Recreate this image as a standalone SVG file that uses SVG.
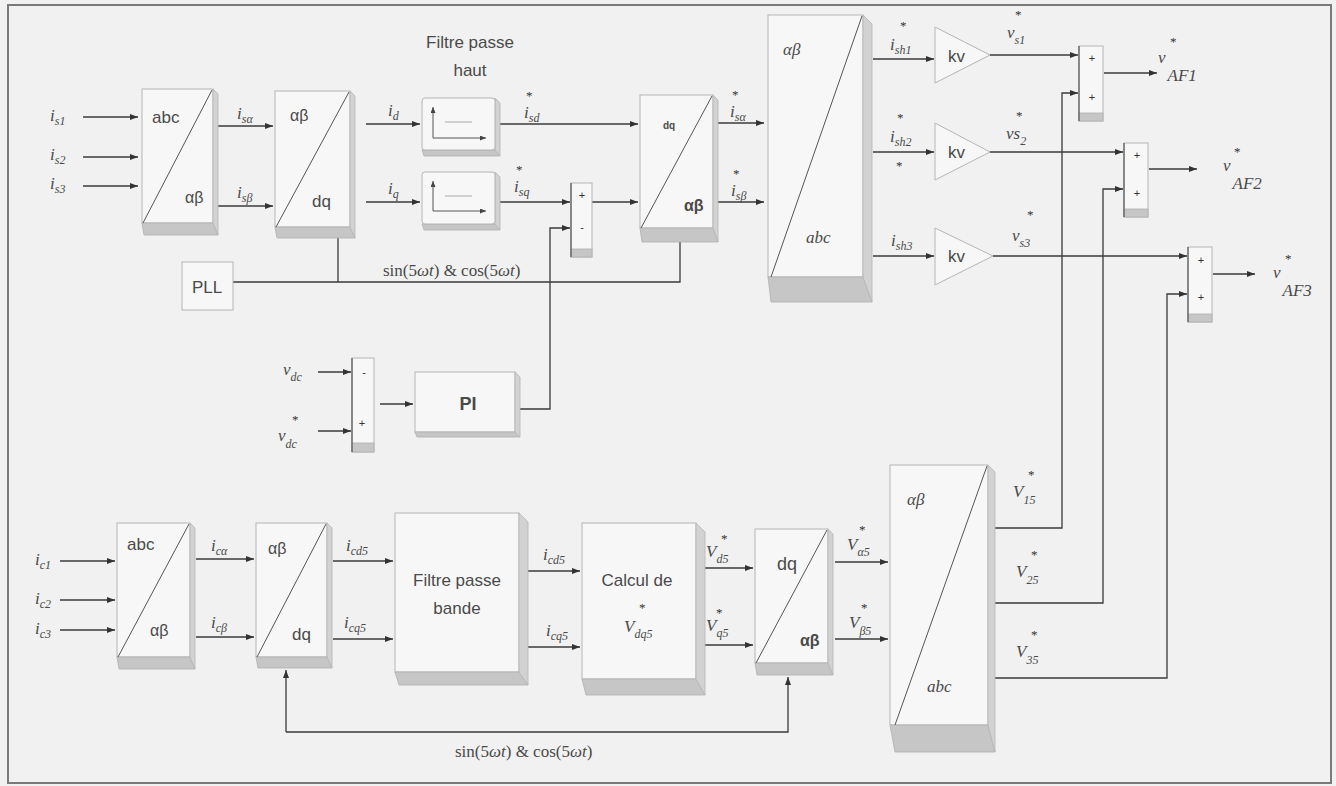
<svg xmlns="http://www.w3.org/2000/svg" width="1336" height="786" viewBox="0 0 1336 786">
<defs>
<style>
.bg{fill:#f1f1f1}
.frame{fill:none;stroke:#7a7a7a;stroke-width:2}
.bf{fill:#f7f7f7;stroke:#b5b5b5;stroke-width:1}
.sh{fill:#c6c6c6;stroke:#b0b0b0;stroke-width:0.8}
.sr{fill:#d2d2d2;stroke:#b5b5b5;stroke-width:0.8}
.dg{stroke:#555;stroke-width:1;fill:none}
.w{stroke:#3a3a3a;stroke-width:1.3;fill:none}
.wa{stroke:#3a3a3a;stroke-width:1.3;fill:none;marker-end:url(#a)}
.fi{stroke:#555;stroke-width:1;fill:none;marker-end:url(#s)}
.stp{stroke:#aaa;stroke-width:1;fill:none}
.sl{stroke:#555;stroke-width:1.2}
.s{font-family:"Liberation Sans",Arial,sans-serif;fill:#4a4a4a;font-size:17px}
.s16{font-size:16px}
.s18{font-size:18px}
.s10{font-size:10px}
.b{font-weight:bold}
.m{font-family:"Liberation Serif","Times New Roman",serif;font-style:italic;fill:#4a4a4a;font-size:17px}
.sin{font-family:"Liberation Serif","Times New Roman",serif;font-style:normal;fill:#4a4a4a;font-size:17px}
.it{font-style:italic}
.u{font-size:12px}
.st{font-family:"Liberation Serif",serif;font-style:normal;font-size:13px;fill:#333}
.sg{font-family:"Liberation Sans",Arial,sans-serif;font-size:11px;fill:#333;text-anchor:middle}
</style>
<marker id="a" markerWidth="8" markerHeight="6" refX="8" refY="3" orient="auto" markerUnits="userSpaceOnUse"><path d="M0,0 L8,3 L0,6 z" fill="#333"/></marker>
<marker id="s" markerWidth="6" markerHeight="5" refX="6" refY="2.5" orient="auto" markerUnits="userSpaceOnUse"><path d="M0,0 L6,2.5 L0,5 z" fill="#444"/></marker>
</defs>
<rect class="bg" x="0" y="0" width="1336" height="786"/>
<rect class="frame" x="8" y="5" width="1323" height="778"/>

<g id="connectors">
<path class="wa" d="M83,117 H138"/>
<path class="wa" d="M83,157 H138"/>
<path class="wa" d="M83,186 H138"/>
<path class="wa" d="M218,126 H273"/>
<path class="wa" d="M218,206 H273"/>
<path class="wa" d="M366,124 H420"/>
<path class="wa" d="M366,202 H420"/>
<path class="wa" d="M488,124 H638"/>
<path class="wa" d="M499,202 H570"/>
<path class="wa" d="M592,202 H638"/>
<path class="wa" d="M718,123 H764"/>
<path class="wa" d="M718,202 H764"/>
<path class="wa" d="M520,409 H550 V228 H570"/>
<path class="w" d="M233,282 H680 V242"/>
<path class="w" d="M338,238 V282"/>
<path class="wa" d="M318,372 H351"/>
<path class="wa" d="M318,431 H351"/>
<path class="wa" d="M380,404 H413"/>
<path class="wa" d="M873,59 H934"/>
<path class="wa" d="M873,152 H934"/>
<path class="wa" d="M873,256 H934"/>
<path class="wa" d="M990,55 H1078"/>
<path class="wa" d="M990,152 H1123"/>
<path class="wa" d="M993,256 H1187"/>
<path class="wa" d="M995,528 H1062 V93 H1078"/>
<path class="wa" d="M995,603 H1103 V189 H1123"/>
<path class="wa" d="M995,678 H1167 V294 H1187"/>
<path class="wa" d="M1104,73 H1157"/>
<path class="wa" d="M1149,169 H1197"/>
<path class="wa" d="M1213,274 H1255"/>
<path class="wa" d="M60,561 H115"/>
<path class="wa" d="M60,600 H115"/>
<path class="wa" d="M60,630 H115"/>
<path class="wa" d="M196,559 H254"/>
<path class="wa" d="M196,637 H254"/>
<path class="wa" d="M333,561 H393"/>
<path class="wa" d="M333,639 H393"/>
<path class="wa" d="M528,571 H580"/>
<path class="wa" d="M528,647 H580"/>
<path class="wa" d="M705,568 H753"/>
<path class="wa" d="M705,645 H753"/>
<path class="wa" d="M835,562 H888"/>
<path class="wa" d="M835,639 H888"/>
<path class="wa" d="M286,732 V670"/>
<path class="wa" d="M286,732 H788 V677"/>
</g>

<g id="b1">
<rect class="bf" x="142" y="89" width="71" height="134"/>
<polygon class="sh" points="142,223 213,223 218,235 144,235"/>
<polygon class="sr" points="213,89 218,94 218,235 213,223"/>
<line class="dg" x1="143" y1="223" x2="212" y2="90"/>
<text class="s" x="152" y="123">abc</text>
<text class="s s16" x="185" y="203">αβ</text>
</g>

<g id="b2">
<rect class="bf" x="275" y="91" width="75" height="136"/>
<polygon class="sh" points="275,227 350,227 355,238 277,238"/>
<polygon class="sr" points="350,91 355,96 355,238 350,227"/>
<line class="dg" x1="276" y1="227" x2="349" y2="92"/>
<text class="s s16" x="290" y="121">αβ</text>
<text class="s" x="312" y="207">dq</text>
</g>

<g id="title-hp">
<text class="s" x="470" y="48" text-anchor="middle">Filtre passe</text>
<text class="s" x="470" y="76" text-anchor="middle">haut</text>
</g>

<g id="filt1">
<polygon class="sh" points="422,150 495,150 500,156 424,156"/>
<polygon class="sr" points="495,98 500,103 500,156 495,150"/>
<rect class="bf" x="422" y="98" width="73" height="52" rx="3"/>
<path class="fi" d="M433,138 V107"/>
<path class="fi" d="M433,138 H486"/>
<path class="stp" d="M445,122 H472"/>
</g>
<g id="filt2">
<polygon class="sh" points="422,224 495,224 500,230 424,230"/>
<polygon class="sr" points="495,172 500,177 500,230 495,224"/>
<rect class="bf" x="422" y="172" width="73" height="52" rx="3"/>
<path class="fi" d="M433,211 V181"/>
<path class="fi" d="M433,211 H486"/>
<path class="stp" d="M445,196 H472"/>
</g>

<g id="sum1">
<rect class="bf" x="571" y="183" width="21" height="74"/>
<rect class="sh" x="571" y="249" width="21" height="8"/>
<line class="sl" x1="571" y1="183" x2="571" y2="257"/>
<text class="sg" x="582" y="199">+</text>
<text class="sg" x="582" y="231">-</text>
</g>

<g id="dq1">
<rect class="bf" x="640" y="95" width="73" height="133"/>
<polygon class="sh" points="640,228 713,228 718,242 642,242"/>
<polygon class="sr" points="713,95 718,100 718,242 713,228"/>
<line class="dg" x1="641" y1="228" x2="712" y2="96"/>
<text class="s s10 b" x="663" y="129">dq</text>
<text class="s s16 b" x="684" y="211">αβ</text>
</g>

<g id="big1">
<rect class="bf" x="768" y="15" width="95" height="262"/>
<polygon class="sh" points="768,277 863,277 872,302 771,302"/>
<polygon class="sr" points="863,15 872,24 872,302 863,277"/>
<line class="dg" x1="771" y1="277" x2="862" y2="16"/>
<text class="m s16" x="783" y="55">αβ</text>
<text class="m s16" x="806" y="243">abc</text>
</g>

<g id="kv1"><polygon class="bf" points="935,27 990,55 935,83"/><text class="s" x="948" y="62">kv</text></g>
<g id="kv2"><polygon class="bf" points="935,123 990,152 935,180"/><text class="s" x="948" y="158">kv</text></g>
<g id="kv3"><polygon class="bf" points="935,228 993,256 935,285"/><text class="s" x="948" y="262">kv</text></g>

<g id="sumv1">
<rect class="bf" x="1079" y="46" width="24" height="75"/>
<rect class="sh" x="1079" y="113" width="24" height="8"/>
<line class="sl" x1="1079" y1="46" x2="1079" y2="121"/>
<text class="sg" x="1092" y="62">+</text>
<text class="sg" x="1092" y="101">+</text>
</g>
<g id="sumv2">
<rect class="bf" x="1124" y="143" width="24" height="74"/>
<rect class="sh" x="1124" y="209" width="24" height="8"/>
<line class="sl" x1="1124" y1="143" x2="1124" y2="217"/>
<text class="sg" x="1137" y="159">+</text>
<text class="sg" x="1137" y="197">+</text>
</g>
<g id="sumv3">
<rect class="bf" x="1188" y="247" width="24" height="75"/>
<rect class="sh" x="1188" y="314" width="24" height="8"/>
<line class="sl" x1="1188" y1="247" x2="1188" y2="322"/>
<text class="sg" x="1201" y="264">+</text>
<text class="sg" x="1201" y="301">+</text>
</g>

<g id="pll">
<rect class="bf" x="182" y="262" width="51" height="48"/>
<text class="s" x="207" y="293" text-anchor="middle">PLL</text>
</g>

<g id="sumdc">
<rect class="bf" x="352" y="358" width="22" height="94"/>
<rect class="sh" x="352" y="443" width="22" height="9"/>
<line class="sl" x1="352" y1="358" x2="352" y2="452"/>
<text class="sg" x="364" y="376">-</text>
<text class="sg" x="362" y="427">+</text>
</g>

<g id="pi">
<rect class="bf" x="415" y="372" width="100" height="60"/>
<polygon class="sh" points="415,432 515,432 520,437 417,437"/>
<polygon class="sr" points="515,372 520,377 520,437 515,432"/>
<text class="s s18 b" x="468" y="410" text-anchor="middle">PI</text>
</g>

<g id="bb1">
<rect class="bf" x="117" y="523" width="73" height="134"/>
<polygon class="sh" points="117,657 190,657 195,669 119,669"/>
<polygon class="sr" points="190,523 195,528 195,669 190,657"/>
<line class="dg" x1="118" y1="657" x2="189" y2="524"/>
<text class="s" x="127" y="550">abc</text>
<text class="s s16" x="150" y="636">αβ</text>
</g>

<g id="bb2">
<rect class="bf" x="256" y="523" width="71" height="134"/>
<polygon class="sh" points="256,657 327,657 332,668 258,668"/>
<polygon class="sr" points="327,523 332,528 332,668 327,657"/>
<line class="dg" x1="257" y1="657" x2="326" y2="524"/>
<text class="s s16" x="268" y="554">αβ</text>
<text class="s" x="292" y="640">dq</text>
</g>

<g id="fpb">
<rect class="bf" x="395" y="513" width="124" height="159"/>
<polygon class="sh" points="395,672 519,672 528,685 399,685"/>
<polygon class="sr" points="519,513 528,522 528,685 519,672"/>
<text class="s" x="457" y="586" text-anchor="middle">Filtre passe</text>
<text class="s" x="457" y="614" text-anchor="middle">bande</text>
</g>

<g id="calc">
<rect class="bf" x="582" y="523" width="114" height="156"/>
<polygon class="sh" points="582,679 696,679 705,695 586,695"/>
<polygon class="sr" points="696,523 705,532 705,695 696,679"/>
<text class="s" x="637" y="586" text-anchor="middle">Calcul de</text>
<text class="m" x="624" y="632">V<tspan class="u" dy="6">dq5</tspan><tspan class="st" x="639" y="612">*</tspan></text>
</g>

<g id="dq2">
<rect class="bf" x="755" y="529" width="73" height="134"/>
<polygon class="sh" points="755,663 828,663 833,675 757,675"/>
<polygon class="sr" points="828,529 833,534 833,675 828,663"/>
<line class="dg" x1="756" y1="663" x2="827" y2="530"/>
<text class="s s18" x="777" y="570">dq</text>
<text class="s s16 b" x="800" y="646">αβ</text>
</g>

<g id="big2">
<rect class="bf" x="890" y="465" width="98" height="260"/>
<polygon class="sh" points="890,725 988,725 995,752 895,752"/>
<polygon class="sr" points="988,465 995,472 995,752 988,725"/>
<line class="dg" x1="895" y1="725" x2="987" y2="466"/>
<text class="m s16" x="907" y="505">αβ</text>
<text class="m s16" x="927" y="692">abc</text>
</g>

<g id="labels">
<text class="m" x="50" y="121">i<tspan class="u" dy="4">s1</tspan></text>
<text class="m" x="50" y="160">i<tspan class="u" dy="4">s2</tspan></text>
<text class="m" x="50" y="189">i<tspan class="u" dy="4">s3</tspan></text>
<text class="m" x="237" y="119">i<tspan class="u" dy="4">sα</tspan></text>
<text class="m" x="237" y="198">i<tspan class="u" dy="4">sβ</tspan></text>
<text class="m" x="388" y="116">i<tspan class="u" dy="4">d</tspan></text>
<text class="m" x="388" y="194">i<tspan class="u" dy="4">q</tspan></text>
<text class="m" x="524" y="118">i<tspan class="u" dy="4">sd</tspan><tspan class="st" x="526" y="100">*</tspan></text>
<text class="m" x="514" y="192">i<tspan class="u" dy="4">sq</tspan><tspan class="st" x="516" y="174">*</tspan></text>
<text class="m" x="730" y="117">i<tspan class="u" dy="4">sα</tspan><tspan class="st" x="732" y="99">*</tspan></text>
<text class="m" x="731" y="196">i<tspan class="u" dy="4">sβ</tspan><tspan class="st" x="733" y="178">*</tspan></text>
<text class="sin" x="383" y="276">sin(5<tspan class="it">ωt</tspan>) &amp; cos(5<tspan class="it">ωt</tspan>)</text>
<text class="m" x="283" y="375">v<tspan class="u" dy="6">dc</tspan></text>
<text class="m" x="278" y="441">v<tspan class="u" dy="7">dc</tspan><tspan class="st" x="292" y="424">*</tspan></text>
<text class="m" x="890" y="50">i<tspan class="u" dy="4">sh1</tspan><tspan class="st" x="900" y="30">*</tspan></text>
<text class="m" x="890" y="142">i<tspan class="u" dy="4">sh2</tspan><tspan class="st" x="897" y="122">*</tspan><tspan class="st" x="896" y="170">*</tspan></text>
<text class="m" x="891" y="246">i<tspan class="u" dy="4">sh3</tspan></text>
<text class="m" x="1007" y="38">v<tspan class="u" dy="6">s1</tspan><tspan class="st" x="1015" y="19">*</tspan></text>
<text class="m" x="1006" y="139">vs<tspan class="u" dy="6">2</tspan><tspan class="st" x="1016" y="120">*</tspan></text>
<text class="m" x="1012" y="241">v<tspan class="u" dy="6">s3</tspan><tspan class="st" x="1027" y="219">*</tspan></text>
<text class="m" x="1158" y="63">v<tspan dy="18" dx="2">AF1</tspan><tspan class="st" x="1170" y="46">*</tspan></text>
<text class="m" x="1223" y="171">v<tspan dy="18" dx="2">AF2</tspan><tspan class="st" x="1234" y="156">*</tspan></text>
<text class="m" x="1273" y="278">v<tspan dy="18" dx="2">AF3</tspan><tspan class="st" x="1285" y="263">*</tspan></text>

<text class="m" x="35" y="565">i<tspan class="u" dy="4">c1</tspan></text>
<text class="m" x="35" y="604">i<tspan class="u" dy="4">c2</tspan></text>
<text class="m" x="35" y="634">i<tspan class="u" dy="4">c3</tspan></text>
<text class="m" x="211" y="551">i<tspan class="u" dy="4">cα</tspan></text>
<text class="m" x="211" y="628">i<tspan class="u" dy="4">cβ</tspan></text>
<text class="m" x="346" y="551">i<tspan class="u" dy="4">cd5</tspan></text>
<text class="m" x="344" y="628">i<tspan class="u" dy="4">cq5</tspan></text>
<text class="m" x="543" y="560">i<tspan class="u" dy="4">cd5</tspan></text>
<text class="m" x="546" y="636">i<tspan class="u" dy="4">cq5</tspan></text>
<text class="m" x="706" y="557">V<tspan class="u" dy="6">d5</tspan><tspan class="st" x="721" y="543">*</tspan></text>
<text class="m" x="706" y="631">V<tspan class="u" dy="6">q5</tspan><tspan class="st" x="716" y="617">*</tspan></text>
<text class="m" x="847" y="550">V<tspan class="u" dy="6">α5</tspan><tspan class="st" x="859" y="534">*</tspan></text>
<text class="m" x="849" y="628">V<tspan class="u" dy="7">β5</tspan><tspan class="st" x="861" y="612">*</tspan></text>
<text class="m" x="1013" y="497">V<tspan class="u" dy="7">15</tspan><tspan class="st" x="1028" y="479">*</tspan></text>
<text class="m" x="1016" y="577">V<tspan class="u" dy="7">25</tspan><tspan class="st" x="1031" y="559">*</tspan></text>
<text class="m" x="1016" y="657">V<tspan class="u" dy="7">35</tspan><tspan class="st" x="1031" y="639">*</tspan></text>
<text class="sin" x="455" y="757">sin(5<tspan class="it">ωt</tspan>) &amp; cos(5<tspan class="it">ωt</tspan>)</text>
</g>
</svg>
